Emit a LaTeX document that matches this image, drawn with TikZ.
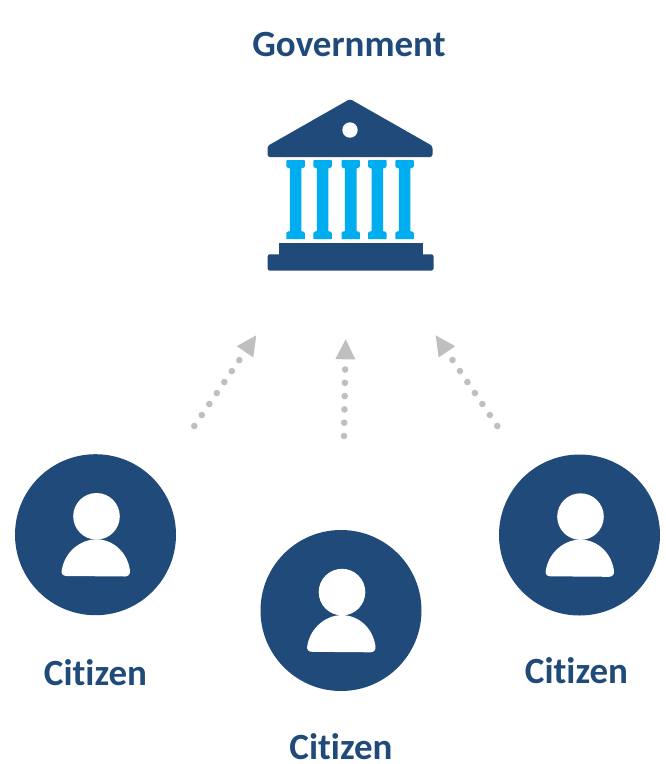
\documentclass[tikz,border=0pt]{standalone}
\usepackage{fontspec}
\setmainfont[RawFeature={-liga;-clig;-dlig}]{Carlito}
\usetikzlibrary{arrows.meta}
\definecolor{navy}{HTML}{1F4A7A}
\definecolor{sky}{HTML}{00AEEF}
\definecolor{dotgrey}{HTML}{BFBFBF}
\tikzset{
  label text/.style={text=navy,font=\fontsize{37}{38}\bfseries\selectfont,anchor=base,inner sep=0pt},
  citizen disc/.style={circle,fill=navy,draw=none,minimum size=161pt,inner sep=0pt},
  vote arrow/.style={draw=dotgrey,line width=6.6pt,line cap=round,dash pattern=on 0pt off 13.3pt,
    -{Triangle[length=20pt,width=20pt,fill=dotgrey,line cap=butt,line width=0pt]}},
  column/.pic={
    \fill[sky,rounded corners=0.5pt] (-9.2,-39.5) -- (9.2,-39.5) -- (9.2,-33) -- (7.6,-31.7) -- (5.8,-31.7) -- (5.8,31.7) -- (7.6,31.7) -- (9.2,33) -- (9.2,39.5) -- (-9.2,39.5) -- (-9.2,33) -- (-7.6,31.7) -- (-5.8,31.7) -- (-5.8,-31.7) -- (-7.6,-31.7) -- (-9.2,-33) -- cycle;
  },
  person/.pic={
    \fill[white] (1,-18.4) circle[radius=23.3];
    \fill[white] (-29,41.3)
      .. controls (-32.5,41.3) and (-34.4,39) .. (-33.8,36)
      .. controls (-31,17) and (-15,4.6) .. (1,4.6)
      .. controls (17,4.6) and (32,17) .. (34.5,36)
      .. controls (35,39) and (33,41.8) .. (29.5,41.8) -- cycle;
  }
}
\begin{document}
\begin{tikzpicture}[x=1pt,y=-1pt]
\useasboundingbox (0,0) rectangle (666,764);
% government
\node[label text] (gov) at (349,56.5) {Government};
\fill[navy,rounded corners=2.5pt] (350,99) -- (432.5,146) -- (432.5,157) -- (267.5,157) -- (267.5,146) -- cycle;
\fill[white] (350,130) circle[radius=7.7];
\pic at (295.6,199.7) {column};
\pic at (322.6,199.7) {column};
\pic at (350.7,199.7) {column};
\pic at (377.3,199.7) {column};
\pic at (404.6,199.7) {column};
\fill[navy] (278.7,243) rectangle (422.5,256);
\fill[navy,rounded corners=2pt] (267.7,254.3) rectangle (433.5,270.5);
% citizens
\node[citizen disc] (c1) at (95.5,534.7) {};
\node[citizen disc] (c2) at (341,610.5) {};
\node[citizen disc] (c3) at (579.5,535) {};
\pic at (c1) {person};
\pic at (c2) {person};
\pic at (c3) {person};
\node[label text] (l1) at (95.5,685) {Citizen};
\node[label text] (l2) at (341,759) {Citizen};
\node[label text] (l3) at (576.5,683) {Citizen};
% arrows
\coordinate (s1) at (194.3,426);
\coordinate (e1) at (256.3,335.3);
\coordinate (s2) at (344,436);
\coordinate (e2) at (345.7,339.3);
\coordinate (s3) at (497.3,426);
\coordinate (e3) at (435.7,335.3);
\draw[vote arrow] (s1) -- (e1);
\draw[vote arrow] (s2) -- (e2);
\draw[vote arrow] (s3) -- (e3);
\end{tikzpicture}
\end{document}
